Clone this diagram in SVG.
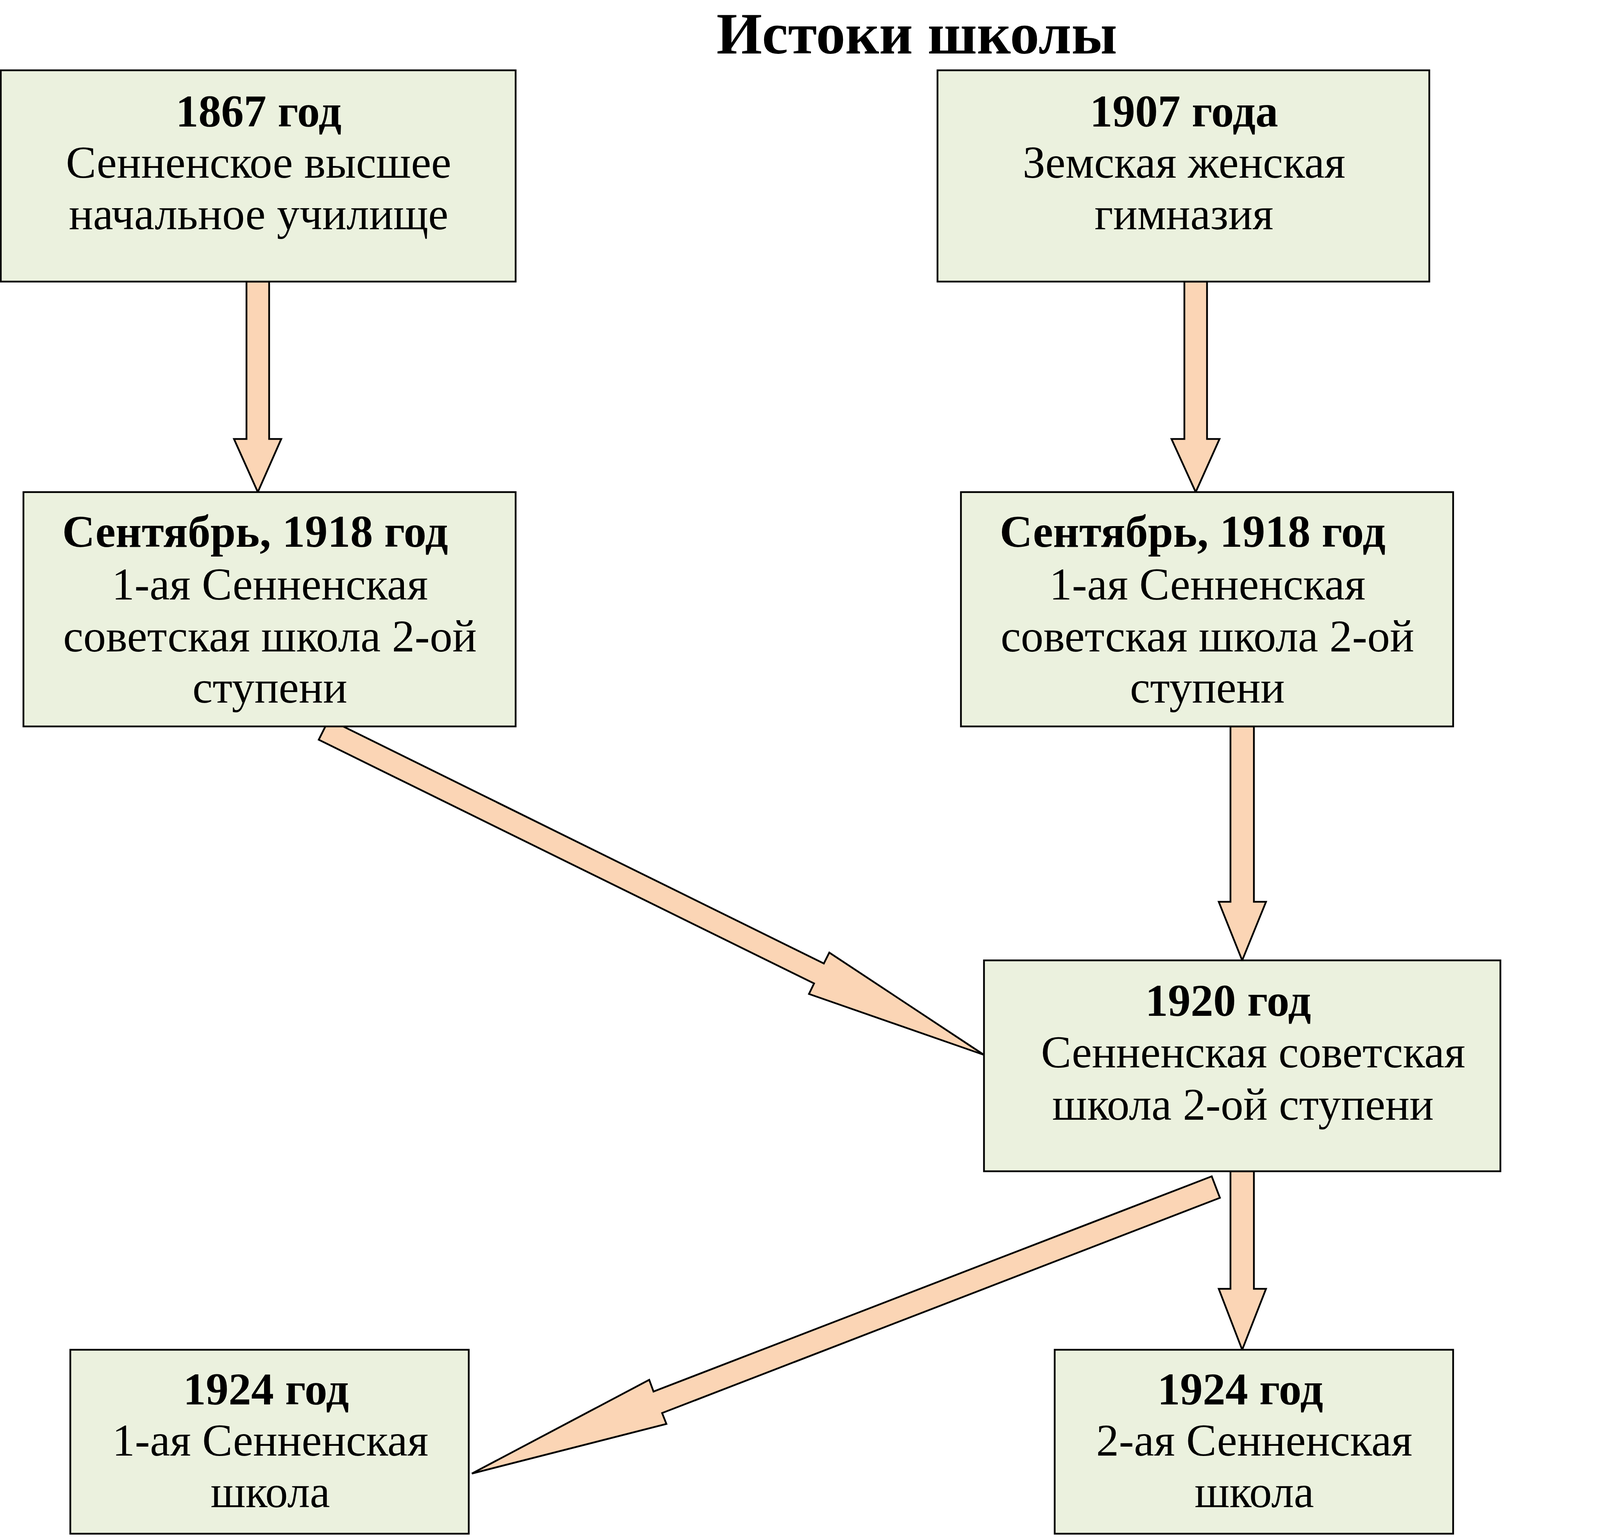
<svg xmlns="http://www.w3.org/2000/svg" width="4520" height="3938" viewBox="0 0 4520 3938">
<style>
.box{fill:#EBF1DE;stroke:#000;stroke-width:4.5}
.arr{fill:#FBD5B5;stroke:#000;stroke-width:4.5;stroke-linejoin:miter}
text{font-family:"Liberation Serif","Times New Roman",serif;fill:#000;text-anchor:middle}
.t{font-size:116px}
.b{font-size:116px;font-weight:bold}
.title{font-size:150px;font-weight:bold}
</style>
<rect width="4520" height="3938" fill="#fff"/>
<text class="title" x="2347" y="137">Истоки школы</text>
<g id="connectors">
<polygon class="arr" points="631,721 689,721 689,1124 720,1124 660,1260 599,1124 631,1124"/>
<polygon class="arr" points="3032,721 3090,721 3090,1124 3122,1124 3061,1260 2999,1124 3032,1124"/>
<polygon class="arr" points="3150,1860 3210,1860 3210,2309 3241,2309 3180,2459 3120,2309 3150,2309"/>
<polygon class="arr" points="3150,2999 3210,2999 3210,3300 3241,3300 3180,3456 3120,3300 3150,3300"/>
<polygon class="arr" points="842,1842 2109,2467 2123,2439 2519,2701 2071,2545 2084,2518 816,1894"/>
<polygon class="arr" points="3102,3012 1673,3563 1662,3533 1208,3773 1706,3646 1695,3618 3123,3067"/>
</g>
<g id="n1867">
<rect class="box" x="2" y="180" width="1318" height="541"/>
<text class="b" x="662" y="324">1867 год</text>
<text class="t" x="662" y="455">Сенненское высшее</text>
<text class="t" x="662" y="587">начальное училище</text>
</g>
<g id="n1907">
<rect class="box" x="2400" y="180" width="1259" height="541"/>
<text class="b" x="3031" y="324">1907 года</text>
<text class="t" x="3031" y="455">Земская женская</text>
<text class="t" x="3031" y="587">гимназия</text>
</g>
<g id="n1918a">
<rect class="box" x="60" y="1260" width="1260" height="600"/>
<text class="b" x="653" y="1400">Сентябрь, 1918 год</text>
<text class="t" x="691" y="1535">1-ая Сенненская</text>
<text class="t" x="691" y="1668">советская школа 2-ой</text>
<text class="t" x="691" y="1799">ступени</text>
</g>
<g id="n1918b">
<rect class="box" x="2460" y="1260" width="1260" height="600"/>
<text class="b" x="3053" y="1400">Сентябрь, 1918 год</text>
<text class="t" x="3091" y="1535">1-ая Сенненская</text>
<text class="t" x="3091" y="1668">советская школа 2-ой</text>
<text class="t" x="3091" y="1799">ступени</text>
</g>
<g id="n1920">
<rect class="box" x="2519" y="2459" width="1322" height="540"/>
<text class="b" x="3144" y="2601">1920 год</text>
<text class="t" x="3208" y="2733">Сенненская советская</text>
<text class="t" x="3182" y="2867">школа 2-ой ступени</text>
</g>
<g id="n1924a">
<rect class="box" x="180" y="3456" width="1020" height="471"/>
<text class="b" x="681" y="3596">1924 год</text>
<text class="t" x="692" y="3727">1-ая Сенненская</text>
<text class="t" x="692" y="3859">школа</text>
</g>
<g id="n1924b">
<rect class="box" x="2700" y="3456" width="1020" height="471"/>
<text class="b" x="3175" y="3596">1924 год</text>
<text class="t" x="3211" y="3727">2-ая Сенненская</text>
<text class="t" x="3211" y="3859">школа</text>
</g>
</svg>
